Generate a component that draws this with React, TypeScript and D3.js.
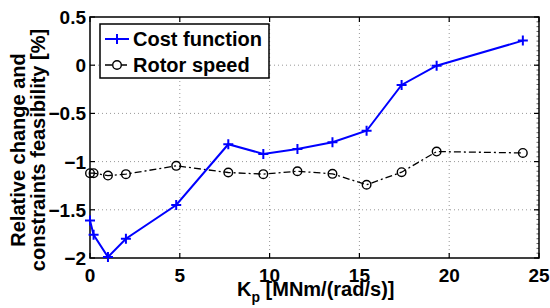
import React from "react";
import * as d3 from "d3";

const kp = [0, 0.2, 1, 2, 4.8, 7.7, 9.65, 11.55, 13.5, 15.4, 17.35, 19.3, 24.1];
const costFunction = [-1.61, -1.76, -1.99, -1.8, -1.45, -0.82, -0.92, -0.87, -0.8, -0.68, -0.205, -0.005, 0.255];
const rotorSpeed = [-1.12, -1.12, -1.145, -1.13, -1.044, -1.113, -1.13, -1.1, -1.127, -1.24, -1.11, -0.896, -0.91];
const xTicks = [0, 5, 10, 15, 20, 25];
const yTicks = [0.5, 0, -0.5, -1, -1.5, -2];
const seriesNames = ["Cost function", "Rotor speed"];

const W = 550, H = 308;
const m = { left: 90, right: 539, top: 17, bottom: 258 };
const FONT = "'Liberation Sans', Arial, Helvetica, sans-serif";

export default function App() {
  const x = d3.scaleLinear().domain([0, 25]).range([m.left, m.right]);
  const y = d3.scaleLinear().domain([-2, 0.5]).range([m.bottom, m.top]);
  const line = d3.line<[number, number]>().x(d => x(d[0])).y(d => y(d[1]));
  const costPts: [number, number][] = kp.map((k, i) => [k, costFunction[i]]);
  const rotorPts: [number, number][] = kp.map((k, i) => [k, rotorSpeed[i]]);
  const minorY = d3.range(-2, 0.5001, 0.05);
  const tk = 5;
  const fmt = (v: number) => (v < 0 ? "\u2212" + String(Math.abs(v)).replace(/^0\./, "0.") : String(v));

  return (
    <svg width={W} height={H} style={{ position: "absolute", left: 0, top: 0, background: "#fff" }} fontFamily={FONT}>
      <rect x={0} y={0} width={W} height={H} fill="#fff" />
      {/* grid */}
      {xTicks.slice(1, -1).map(t => (
        <line key={"gx" + t} x1={x(t)} x2={x(t)} y1={m.top} y2={m.bottom} stroke="#999" strokeWidth={1} strokeDasharray="1,3" />
      ))}
      {yTicks.slice(1, -1).map(t => (
        <line key={"gy" + t} x1={m.left} x2={m.right} y1={y(t)} y2={y(t)} stroke="#999" strokeWidth={1} strokeDasharray="1,3" />
      ))}
      {/* minor ticks right */}
      {minorY.map((t, i) => (
        <line key={"my" + i} x1={m.right - 2.5} x2={m.right} y1={y(t)} y2={y(t)} stroke="#666" strokeWidth={1} />
      ))}
      {/* ticks */}
      {xTicks.map(t => (
        <g key={"tx" + t}>
          <line x1={x(t)} x2={x(t)} y1={m.bottom} y2={m.bottom - tk} stroke="#000" strokeWidth={1.2} />
          <line x1={x(t)} x2={x(t)} y1={m.top} y2={m.top + tk} stroke="#000" strokeWidth={1.2} />
          <text x={x(t)} y={m.bottom + 24} textAnchor="middle" fontSize={19} fontWeight="bold">{t}</text>
        </g>
      ))}
      {yTicks.map(t => (
        <g key={"ty" + t}>
          <line x1={m.left} x2={m.left + tk} y1={y(t)} y2={y(t)} stroke="#000" strokeWidth={1.2} />
          <line x1={m.right} x2={m.right - tk} y1={y(t)} y2={y(t)} stroke="#000" strokeWidth={1.2} />
          <text x={m.left - 4} y={y(t) + 7} textAnchor="end" fontSize={19} fontWeight="bold">{fmt(t)}</text>
        </g>
      ))}
      {/* axes box */}
      <rect x={m.left} y={m.top} width={m.right - m.left} height={m.bottom - m.top} fill="none" stroke="#000" strokeWidth={1.5} />
      {/* rotor speed */}
      <path d={line(rotorPts) || ""} fill="none" stroke="#000" strokeWidth={1.3} strokeDasharray="7,3,2,3" />
      {rotorPts.map((p, i) => (
        <circle key={"c" + i} cx={x(p[0])} cy={y(p[1])} r={4.3} fill="none" stroke="#000" strokeWidth={1.4} />
      ))}
      {/* cost function */}
      <path d={line(costPts) || ""} fill="none" stroke="#0000ff" strokeWidth={2} />
      {costPts.map((p, i) => (
        <path key={"p" + i} d={`M${x(p[0]) - 5},${y(p[1])}h10M${x(p[0])},${y(p[1]) - 5}v10`} stroke="#0000ff" strokeWidth={2} />
      ))}
      {/* legend */}
      <rect x={100} y={24} width={169} height={54} fill="#fff" stroke="#000" strokeWidth={1.5} />
      <line x1={105} x2={129} y1={39} y2={39} stroke="#0000ff" strokeWidth={2} />
      <path d={`M112,39h10M117,34v10`} stroke="#0000ff" strokeWidth={2} />
      <text x={133} y={46} fontSize={20} fontWeight="bold">{seriesNames[0]}</text>
      <line x1={105} x2={129} y1={65} y2={65} stroke="#000" strokeWidth={1.3} strokeDasharray="7,3,2,3" />
      <circle cx={117} cy={65} r={4.3} fill="#fff" stroke="#000" strokeWidth={1.4} />
      <text x={133} y={72} fontSize={20} fontWeight="bold">{seriesNames[1]}</text>
      {/* y label */}
      <g transform="translate(25,150) rotate(-90)">
        <text x={0} y={0} textAnchor="middle" fontSize={20} fontWeight="bold">Relative change and</text>
        <text x={0} y={20} textAnchor="middle" fontSize={20} fontWeight="bold">constraints feasibility [%]</text>
      </g>
      {/* x label */}
      <text x={237} y={296} fontSize={20} fontWeight="bold">
        K<tspan fontSize={14} dy={6}>p</tspan><tspan dy={-6}> [MNm/(rad/s)]</tspan>
      </text>
    </svg>
  );
}
